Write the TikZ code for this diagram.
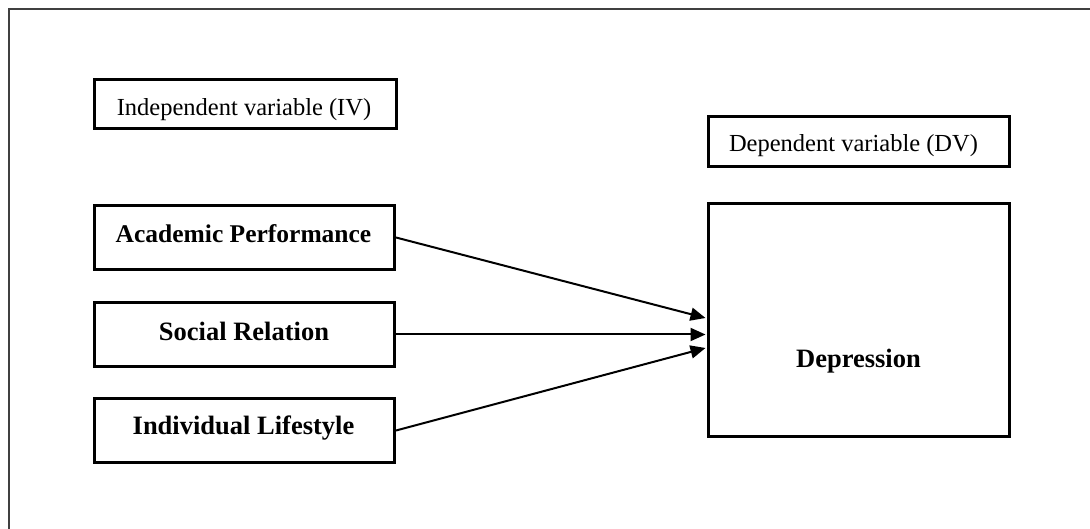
\documentclass[tikz,border=0pt]{standalone}
\usepackage{fontspec}
\setmainfont{Liberation Serif}
\usetikzlibrary{arrows.meta,calc}
\begin{document}
\begin{tikzpicture}[x=1pt,y=-1pt,
  box/.style={draw=black,line width=3pt,inner sep=0pt},
  rtext/.style={inner sep=0pt,font=\fontsize{24.5}{28}\selectfont},
  btext/.style={inner sep=0pt,font=\fontsize{26.5}{30}\selectfont\bfseries},
  conn/.style={line width=2pt,-{Triangle[length=15pt,width=13pt]}}]
\useasboundingbox (0,0) rectangle (1090,529);
\draw[line width=1.5pt,black!75] (9,529) -- (9,9) -- (1090,9);
\node[box,minimum width=302pt,minimum height=49pt] (iv) at (245.5,104) {};
\node[rtext] (ivt) at (244,110) {Independent variable (IV)};
\node[box,minimum width=300pt,minimum height=64pt] (ap) at (244.5,237.5) {};
\node[btext,font=\fontsize{25.5}{30}\selectfont\bfseries] (apt) at (243.5,234) {Academic Performance};
\node[box,minimum width=300pt,minimum height=64pt] (sr) at (244.5,334.5) {};
\node[btext] (srt) at (244,331) {Social Relation};
\node[box,minimum width=300pt,minimum height=64pt] (il) at (244.5,430.5) {};
\node[btext] (ilt) at (243.5,428) {Individual Lifestyle};
\node[box,minimum width=301pt,minimum height=50pt] (dv) at (859,141.5) {};
\node[rtext] (dvt) at (853.5,146) {Dependent variable (DV)};
\node[box,minimum width=301pt,minimum height=233pt] (dep) at (859,320) {};
\node[btext] (dept) at (858.5,361) {Depression};
\coordinate (t1) at ($(dep.west)+(-1.5,-2)$);
\coordinate (t2) at ($(dep.west)+(-1.5,13)$);
\coordinate (t3) at ($(dep.west)+(-1.5,28)$);
\draw[conn] (ap.east) -- (t1);
\draw[conn] (sr.east) -- (sr.east -| t2);
\draw[conn] (il.east) -- (t3);
\end{tikzpicture}
\end{document}
